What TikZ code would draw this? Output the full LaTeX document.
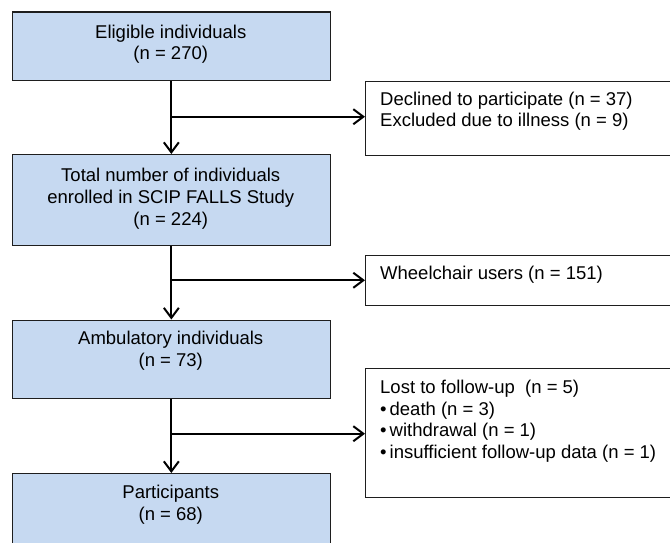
\documentclass[tikz,border=0pt]{standalone}
\usepackage{fontspec}
\setmainfont{Liberation Sans}
\usetikzlibrary{arrows.meta}

\definecolor{boxblue}{HTML}{C6D9F1}
\definecolor{boxline}{HTML}{1E1E1E}
\newcommand{\flowfont}{\fontsize{18.5}{21.7}\selectfont}

\tikzset{
  mainbox/.style={draw=boxline, line width=1.2pt, fill=boxblue, anchor=north west,
    minimum width=317.5pt, inner sep=0pt},
  sidebox/.style={draw=boxline, line width=1.2pt, fill=white, anchor=north west,
    minimum width=340pt, inner sep=0pt},
  maintext/.style={anchor=base, align=center, inner sep=0pt, font=\flowfont},
  sidetext/.style={anchor=base west, align=left, inner sep=0pt, font=\flowfont},
  flowarrow/.style={line width=2pt, -{Straight Barb[length=10pt,width=15pt]}}
}

\begin{document}
\begin{tikzpicture}[x=1pt,y=-1pt]
        \useasboundingbox (0,0) rectangle (670,543);
        \clip (0,0) rectangle (670,543);
        % main column
        \node[mainbox, minimum height=68.5pt] (elig) at (12,11.5) {};
        \node[mainbox, minimum height=91pt] (total) at (12,154) {};
        \node[mainbox, minimum height=78.5pt] (ambu) at (12,319.5) {};
        \node[mainbox, minimum height=100pt] (part) at (12,473) {};
        % text sits on the baseline of its last line
        \node[maintext] (eligtext) at (170.75,60) {Eligible individuals\\(n = 270)};
        \node[maintext] (totaltext) at (170.75,225.1) {Total number of individuals\\enrolled in SCIP FALLS Study\\(n = 224)};
        \node[maintext] (ambutext) at (170.75,366.4) {Ambulatory individuals\\(n = 73)};
        \node[maintext] (parttext) at (170.75,520.4) {Participants\\(n = 68)};
        % excluded boxes
        \node[sidebox, minimum height=73.5pt] (declined) at (365,81) {};
        \node[sidebox, minimum height=50pt] (wheel) at (365,255) {};
        \node[sidebox, minimum height=129pt] (lost) at (365,367.5) {};
        \node[sidetext] (declinedtext) at (380,127) {Declined to participate (n = 37)\\Excluded due to illness (n = 9)};
        \node[sidetext] (wheeltext) at (380,279.5) {Wheelchair users (n = 151)};
        \node[sidetext] (losttext) at (380,458.4) {Lost to follow-up\ \ (n = 5)\\
          \textbullet\hspace{3pt}death (n = 3)\\
          \textbullet\hspace{3pt}withdrawal (n = 1)\\
          \textbullet\hspace{3pt}insufficient follow-up data (n = 1)};
        % arrows
        \coordinate (split1) at (170.75,116.7);
        \coordinate (split2) at (170.75,280.3);
        \coordinate (split3) at (170.75,433.7);
        \draw[flowarrow] (elig.south) -- (total.north);
        \draw[flowarrow] (total.south) -- (ambu.north);
        \draw[flowarrow] (ambu.south) -- (part.north);
        \draw[flowarrow] (split1) -- (declined.west |- split1);
        \draw[flowarrow] (split2) -- (wheel.west |- split2);
        \draw[flowarrow] (split3) -- (lost.west |- split3);
\end{tikzpicture}
\end{document}
